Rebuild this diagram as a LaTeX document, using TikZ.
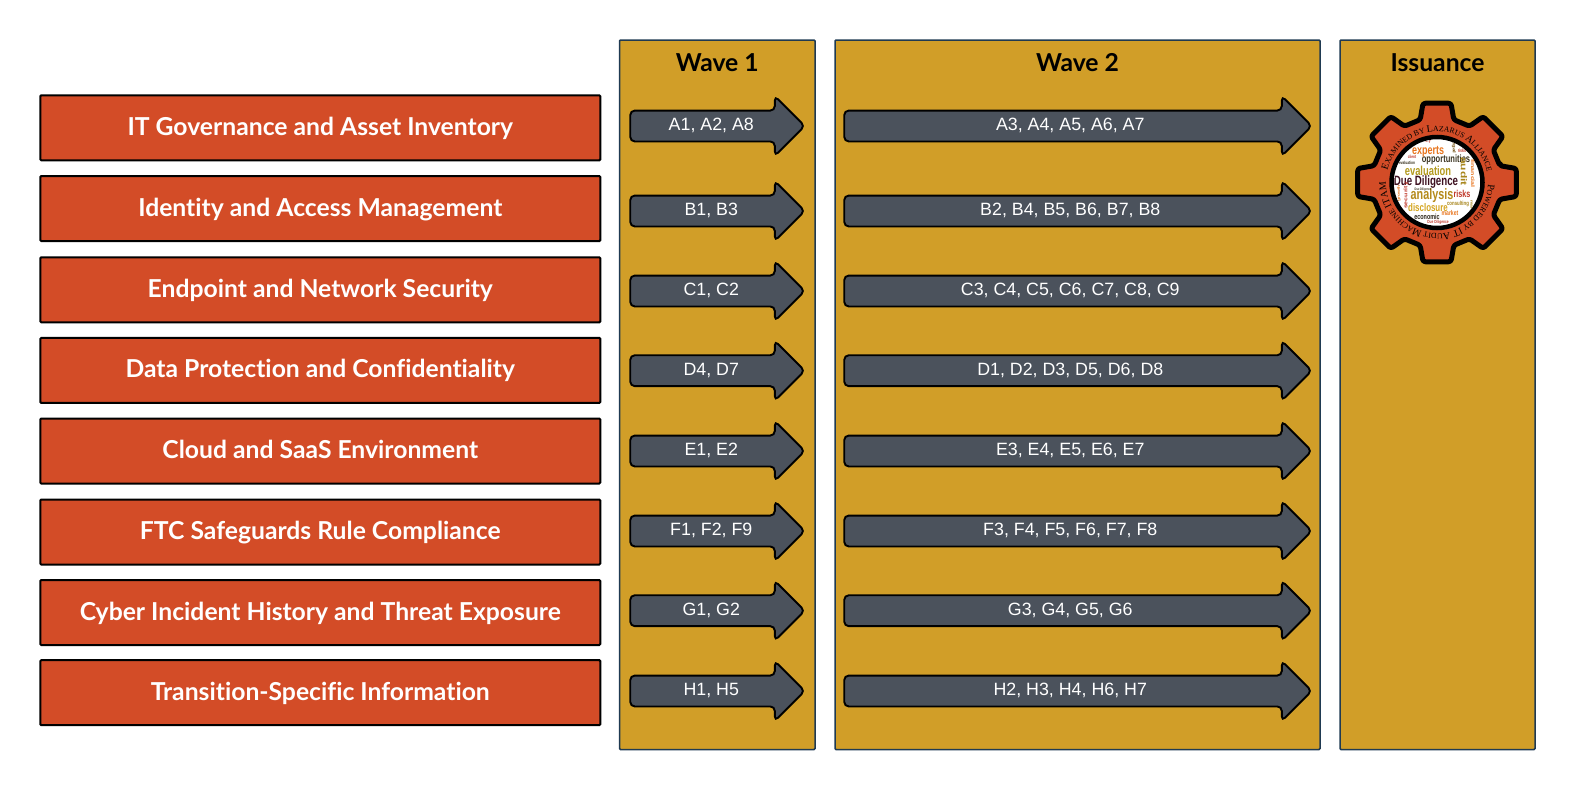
\documentclass[tikz,border=0pt]{standalone}
\usepackage{fontspec}
\setmainfont{Lato}[Ligatures=NoCommon]
\newfontfamily\arrowfont{Liberation Sans}
\newfontfamily\ringfont{Liberation Serif}
\usetikzlibrary{shapes.arrows,decorations.text}
\definecolor{panelgold}{HTML}{D19E28}
\definecolor{paneledge}{HTML}{1F3A52}
\definecolor{topicred}{HTML}{D34C27}
\definecolor{arrowgrey}{HTML}{4B525C}
\newcommand{\bigring}{\ringfont\fontsize{10}{11}\selectfont}
\newcommand{\smallring}{\ringfont\fontsize{7.8}{11}\selectfont}
\tikzset{
    wavepanel/.style={draw=paneledge,fill=panelgold,line width=1.5pt,rounded corners=1pt},
    wavetitle/.style={font=\bfseries\fontsize{24.7}{28}\selectfont,text=black},
    topicbox/.style={draw=black,fill=topicred,line width=2pt,rounded corners=1pt,minimum width=560pt,minimum height=65pt,
        text=white,font=\bfseries\fontsize{24.7}{28}\selectfont,text height=20pt,text depth=5pt},
    itemarrow/.style={single arrow,draw=black,fill=arrowgrey,line width=1.9pt,rounded corners=4.5pt,anchor=tail,
        single arrow head extend=14.5pt,single arrow tip angle=90,text=white,
        font=\arrowfont\fontsize{17.8}{20}\selectfont,text height=11.6pt,text depth=2.8pt,inner ysep=7.3pt,inner xsep=0pt},
    cloudword/.style={inner sep=0pt,transform shape,font=\arrowfont\bfseries},
}
\begin{document}
\begin{tikzpicture}[x=1pt,y=-1pt]
    \useasboundingbox (0,0) rectangle (1575,790);
    % columns
    \draw[wavepanel] (619.5,40) rectangle (815,749.5);
    \draw[wavepanel] (835,40) rectangle (1320,749.5);
    \draw[wavepanel] (1340,40) rectangle (1535,749.5);
    \node[wavetitle] (wave1) at (717.3,63) {Wave 1};
    \node[wavetitle] (wave2) at (1077.5,63) {Wave 2};
    \node[wavetitle] (issuance) at (1437.5,63) {Issuance};
    % rows
    \foreach \name/\boxy/\arrowy/\first/\second/\topic in {
        a/127.8/126/{A1, A2, A8}/{A3, A4, A5, A6, A7}/{IT Governance and Asset Inventory},
        b/208.6/211/{B1, B3}/{B2, B4, B5, B6, B7, B8}/{Identity and Access Management},
        c/289.8/291/{C1, C2}/{C3, C4, C5, C6, C7, C8, C9}/{Endpoint and Network Security},
        d/370.4/370.7/{D4, D7}/{D1, D2, D3, D5, D6, D8}/{Data Protection and Confidentiality},
        e/451/451/{E1, E2}/{E3, E4, E5, E6, E7}/{Cloud and SaaS Environment},
        f/532/531/{F1, F2, F9}/{F3, F4, F5, F6, F7, F8}/{FTC Safeguards Rule Compliance},
        g/612.5/610.7/{G1, G2}/{G3, G4, G5, G6}/{Cyber Incident History and Threat Exposure},
        h/692.7/691/{H1, H5}/{H2, H3, H4, H6, H7}/{Transition-Specific Information}}
    {
        \node[topicbox] (topic\name) at (320.3,\boxy) {\topic};
        \node[itemarrow,minimum height=174.5pt] (first\name) at (629.3,\arrowy) {\hspace*{3pt}\first};
        \node[itemarrow,minimum height=467.5pt] (second\name) at (843.3,\arrowy) {\second};
    }
    % badge
    \begin{scope}[shift={(1437,182.5)}]
        \draw[draw=black,fill=topicred,line width=5pt,line join=round,rounded corners=2.5pt]
            (-15:65) \foreach \a in {0,45,...,315} {
                -- (\a-15:65) -- (\a-10:80.5) -- (\a+10:80.5) -- (\a+15:65)
            } -- cycle;
        \draw[draw=black,fill=white,line width=4.5pt] (0,0) circle (45.5);
        \path[postaction={decorate,decoration={text along path,text align={fit to path},
            text={|\bigring|E|\smallring|XAMINED BY |\bigring|L|\smallring|AZARUS |\bigring|A|\smallring|LLIANCE}}}]
            (194:51) arc (194:346:51);
        \path[postaction={decorate,decoration={text along path,text align={fit to path},
            text={|\bigring|P|\smallring|OWERED BY |\bigring|IT A|\smallring|UDIT |\bigring|M|\smallring|ACHINE |\bigring|ITAM}}}]
            (2:51) arc (2:178:51);
        \begin{scope}
            \clip (0,0) circle (43);
            \foreach \wx/\wy/\wsize/\wangle/\wcolor/\wtext [count=\i] in {
                -11/0/13.5/0/3D1020/Due Diligence,
                -5/13/15/0/B58A1A/analysis,
                -9/-12/13/0/B39A1E/evaluation,
                9/-23/10.5/0/3A3320/opportunities,
                -9/-31/12.5/0/E8751E/experts,
                25/11/10/0/C0392B/risks,
                27/-11/12/-90/A8861C/audit,
                -9/25/11/0/D4A520/disclosure,
                21/21/6/0/A8861C/consulting,
                -10/34/7.5/0/2A2418/economic,
                13/30/7/0/E8751E/market,
                1/40/4.5/0/C0392B/Due Diligence,
                -31/13/7/90/C0392B/security,
                36/-9/7/-90/E8751E/financial,
                17/-36/6/-90/7A5A20/legal,
                25/-32/5/0/C0392B/risks,
                -14/-41/4.5/0/C0392B/discovery,
                -30/-20/4.5/0/3A3320/evaluation,
                -25/-26/4.5/0/C0392B/client,
                -38/11/5/90/E8751E/growth,
                -14/7.5/3.5/0/3A3320/Due Diligence,
                35/26/5/-90/A8861C/market}
            {
                \definecolor{wordcolor}{HTML}{\wcolor}
                \node[cloudword,xscale=0.72,rotate=\wangle,text=wordcolor] (word\i) at (\wx,\wy)
                    {\fontsize{\wsize}{\wsize}\selectfont\wtext};
            }
        \end{scope}
    \end{scope}
\end{tikzpicture}
\end{document}
